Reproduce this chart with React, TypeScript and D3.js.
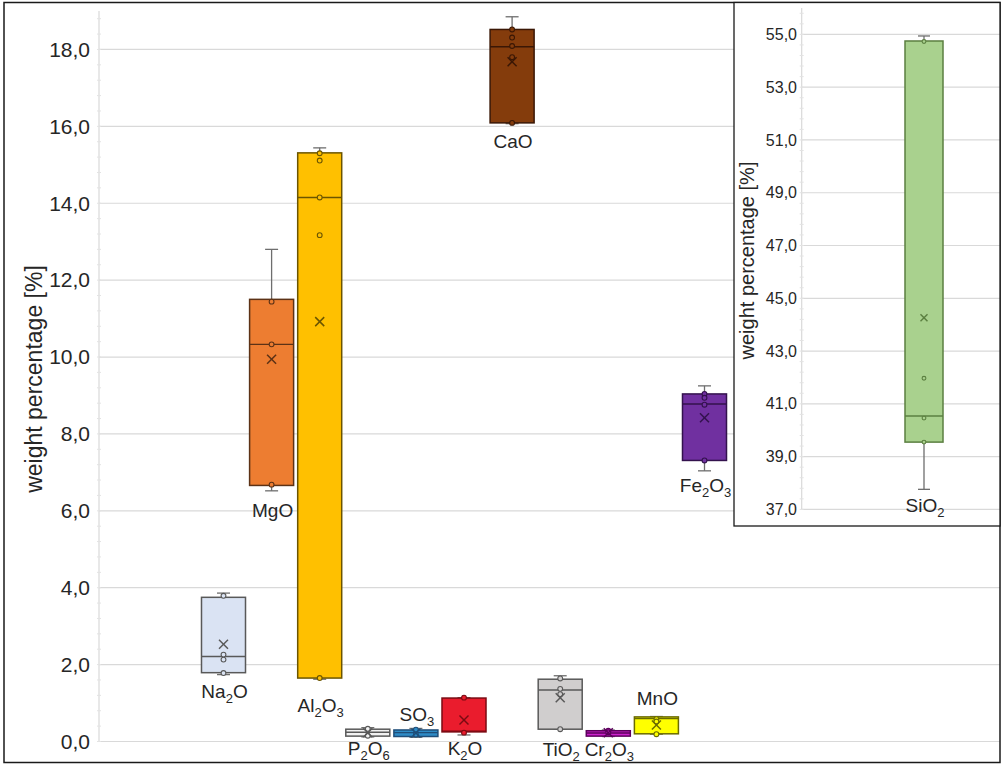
import React from 'react';
import * as d3 from 'd3';

// ---------- data ----------
const categories = ['Na2O', 'MgO', 'Al2O3', 'P2O6', 'SO3', 'K2O', 'CaO', 'TiO2', 'Cr2O3', 'MnO', 'Fe2O3'];
const whiskerLow = [1.74, 6.52, 1.62, 0.12, 0.11, 0.17, 16.07, 0.32, 0.13, 0.19, 7.04];
const q1 = [1.79, 6.66, 1.65, 0.14, 0.13, 0.25, 16.09, 0.32, 0.14, 0.2, 7.31];
const median = [2.21, 10.33, 14.15, 0.24, 0.23, 0.27, 18.07, 1.34, 0.22, 0.6, 8.78];
const q3 = [3.75, 11.5, 15.31, 0.32, 0.3, 1.13, 18.52, 1.62, 0.28, 0.64, 9.04];
const whiskerHigh = [3.86, 12.8, 15.44, 0.36, 0.34, 1.14, 18.85, 1.71, 0.3, 0.65, 9.25];
const mean = [2.53, 9.94, 10.92, 0.23, 0.22, 0.56, 17.68, 1.14, 0.23, 0.43, 8.42];
const innerPoints = [
  [3.79, 2.26, 2.13, 1.78],
  [11.44, 10.33, 6.68],
  [15.3, 15.11, 14.15, 13.17, 1.65],
  [0.33, 0.15],
  [0.31, 0.18],
  [1.14, 0.23],
  [18.52, 18.31, 18.09, 17.8, 16.09],
  [1.64, 1.37, 1.23, 0.32],
  [0.28, 0.24],
  [0.58, 0.52, 0.19],
  [9.04, 8.94, 8.76, 7.31],
];
const mainTicks = [0, 2, 4, 6, 8, 10, 12, 14, 16, 18];

const insetCategory = ['SiO2'];
const insetLow = [37.76];
const insetQ1 = [39.55];
const insetMedian = [40.54];
const insetQ3 = [54.75];
const insetHigh = [54.94];
const insetMean = [44.26];
const insetPoints = [[54.73, 41.97, 40.46, 39.55]];
const insetTicks = [37, 39, 41, 43, 45, 47, 49, 51, 53, 55];

// ---------- styles / layout ----------
const fills = ['#dae3f3', '#ed7d31', '#ffc000', '#f2f2f2', '#2e8bc6', '#ea1c2d', '#843c0c', '#d0cece', '#cc22cc', '#ffff00', '#7030a0'];
const strokes = ['#595959', '#5c3216', '#6b5500', '#595959', '#1f4e79', '#7a0a12', '#3a1705', '#595959', '#5c005c', '#6b6b00', '#33124d'];
const labelEnd = ['low', 'low', 'low', 'low', 'high', 'low', 'low', 'low', 'low', 'high', 'low'];
const labelOffset = [23, 26, 32.5, 18, -7, 20, 24.5, 27, 19.5, -11.5, 21];

const FONT = "'Liberation Sans', Arial, Helvetica, sans-serif";
const commaFmt = d3.formatLocale({ decimal: ',', thousands: '.', grouping: [3], currency: ['', ''] }).format('.1f');

function Formula({ name, x, y, size, subSize }: { name: string; x: number; y: number; size: number; subSize: number }) {
  const parts: { t: string; sub: boolean }[] = [];
  for (const ch of name) {
    const sub = /[0-9]/.test(ch);
    const last = parts[parts.length - 1];
    if (last && last.sub === sub) last.t += ch;
    else parts.push({ t: ch, sub });
  }
  let shifted = false;
  return (
    <text x={x} y={y} textAnchor="middle" fontFamily={FONT} fontSize={size} fill="#262626">
      {parts.map((p, i) => {
        let dy = 0;
        if (p.sub && !shifted) { dy = 5; shifted = true; }
        else if (!p.sub && shifted) { dy = -5; shifted = false; }
        return (
          <tspan key={i} dy={dy} fontSize={p.sub ? subSize : size}>{p.t}</tspan>
        );
      })}
    </text>
  );
}

function Box({ cx, w, y, low, lo, med, hi, high, mn, pts, fill, stroke, capW, xSize, r }: any) {
  const left = cx - w / 2;
  return (
    <g>
      <line x1={cx} x2={cx} y1={y(hi)} y2={y(high)} stroke="#6e6e6e" strokeWidth={1.3} />
      <line x1={cx - capW / 2} x2={cx + capW / 2} y1={y(high)} y2={y(high)} stroke="#6e6e6e" strokeWidth={1.3} />
      <line x1={cx} x2={cx} y1={y(lo)} y2={y(low)} stroke="#6e6e6e" strokeWidth={1.3} />
      <line x1={cx - capW / 2} x2={cx + capW / 2} y1={y(low)} y2={y(low)} stroke="#6e6e6e" strokeWidth={1.3} />
      <rect x={left} y={y(hi)} width={w} height={Math.max(0.5, y(lo) - y(hi))} fill={fill} stroke={stroke} strokeWidth={1.5} />
      <line x1={left} x2={left + w} y1={y(med)} y2={y(med)} stroke={stroke} strokeWidth={1.4} />
      {pts.map((p: number, i: number) => (
        <circle key={i} cx={cx} cy={y(p)} r={r} fill={fill} stroke={stroke} strokeWidth={1.1} />
      ))}
      <g stroke={stroke} strokeWidth={1.5}>
        <line x1={cx - xSize} x2={cx + xSize} y1={y(mn) - xSize} y2={y(mn) + xSize} />
        <line x1={cx - xSize} x2={cx + xSize} y1={y(mn) + xSize} y2={y(mn) - xSize} />
      </g>
    </g>
  );
}

export default function App() {
  const W = 1002;
  const H = 766;
  const axisX = 99;
  const rightX = 1000;
  const y = d3.scaleLinear().domain([0, 19]).range([741.5, 11]);
  const x = d3.scaleBand<string>().domain(categories).range([199.45, 728.55]).paddingInner(0.085).paddingOuter(0.0425);
  const minor = d3.range(0, 19.001, 0.4);

  const insetLeft = 734;
  const insetBottom = 526;
  const insetAxisX = 801.7;
  const yi = d3.scaleLinear().domain([37, 56]).range([509.4, 8]);
  const xi = d3.scaleBand<string>().domain(insetCategory).range([848, 1000]).paddingInner(0.75).paddingOuter(0.375);
  const minorI = d3.range(37, 56.001, 0.4);

  return (
    <svg width={W} height={H} style={{ position: 'absolute', left: 0, top: 0, background: '#fff' }}>
      <rect x={0} y={0} width={W} height={H} fill="#fff" />
      {/* main grid */}
      {mainTicks.map((t) => (
        <line key={t} x1={axisX} x2={rightX} y1={y(t)} y2={y(t)} stroke="#d9d9d9" strokeWidth={1.2} />
      ))}
      <line x1={axisX} x2={axisX} y1={y(19)} y2={y(0)} stroke="#d9d9d9" strokeWidth={1.2} />
      {minor.map((t, i) => (
        <line key={i} x1={axisX - 2} x2={axisX + 2} y1={y(t)} y2={y(t)} stroke="#e3e3e3" strokeWidth={1} />
      ))}
      {mainTicks.map((t) => (
        <text key={t} x={90} y={y(t)} dy="0.35em" textAnchor="end" fontFamily={FONT} fontSize={21} fill="#262626">
          {commaFmt(t)}
        </text>
      ))}
      <text transform={`translate(42,379) rotate(-90)`} textAnchor="middle" fontFamily={FONT} fontSize={23} fill="#262626">
        weight percentage [%]
      </text>

      {categories.map((c, i) => {
        const cx = (x(c) as number) + x.bandwidth() / 2;
        return (
          <Box key={c} cx={cx} w={x.bandwidth()} y={y} low={whiskerLow[i]} lo={q1[i]} med={median[i]} hi={q3[i]}
            high={whiskerHigh[i]} mn={mean[i]} pts={innerPoints[i]} fill={fills[i]} stroke={strokes[i]} capW={13} xSize={4.5} r={2.4} />
        );
      })}
      {categories.map((c, i) => {
        const cx = (x(c) as number) + x.bandwidth() / 2;
        const base = labelEnd[i] === 'low' ? y(whiskerLow[i]) : y(whiskerHigh[i]);
        return <Formula key={c} name={c} x={cx + 1} y={base + labelOffset[i]} size={19} subSize={13} />;
      })}

      {/* main frame */}
      <rect x={4} y={2.5} width={rightX - 4} height={760} fill="none" stroke="#1a1a1a" strokeWidth={1.5} />

      {/* inset */}
      <rect x={insetLeft} y={2.5} width={rightX - insetLeft} height={insetBottom - 2.5} fill="#fff" stroke="none" />
      {insetTicks.map((t) => (
        <line key={t} x1={insetAxisX} x2={rightX} y1={yi(t)} y2={yi(t)} stroke="#d9d9d9" strokeWidth={1.2} />
      ))}
      <line x1={insetAxisX} x2={insetAxisX} y1={yi(56)} y2={yi(37)} stroke="#d9d9d9" strokeWidth={1.2} />
      {minorI.map((t, i) => (
        <line key={i} x1={insetAxisX - 2} x2={insetAxisX + 2} y1={yi(t)} y2={yi(t)} stroke="#e3e3e3" strokeWidth={1} />
      ))}
      {insetTicks.map((t) => (
        <text key={t} x={797} y={yi(t)} dy="0.35em" textAnchor="end" fontFamily={FONT} fontSize={16} fill="#262626">
          {commaFmt(t)}
        </text>
      ))}
      <text transform={`translate(754,260.5) rotate(-90)`} textAnchor="middle" fontFamily={FONT} fontSize={20} fill="#262626">
        weight percentage [%]
      </text>
      {insetCategory.map((c, i) => {
        const cx = (xi(c) as number) + xi.bandwidth() / 2;
        return (
          <g key={c}>
            <Box cx={cx} w={xi.bandwidth()} y={yi} low={insetLow[i]} lo={insetQ1[i]} med={insetMedian[i]} hi={insetQ3[i]}
              high={insetHigh[i]} mn={insetMean[i]} pts={insetPoints[i]} fill="#a9d18e" stroke="#5b7f40" capW={12} xSize={3.5} r={1.9} />
            <Formula name={c} x={cx + 1} y={yi(insetLow[i]) + 23} size={19} subSize={13} />
          </g>
        );
      })}
      <rect x={insetLeft} y={2.5} width={rightX - insetLeft} height={insetBottom - 2.5} fill="none" stroke="#1a1a1a" strokeWidth={1.3} />
    </svg>
  );
}
